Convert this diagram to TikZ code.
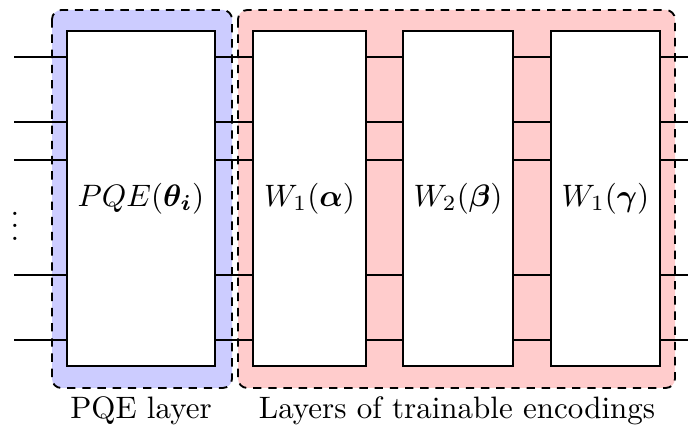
\documentclass[tikz,border=0pt]{standalone}
\usepackage{amsmath,amssymb}
\usepackage{xcolor}
\usepackage{tikz}
\usetikzlibrary{positioning,calc}
\tikzset{
  gatebox/.style={draw, fill=white, semithick, minimum height=108pt, inner sep=0pt},
  layerbg/.style={dash pattern=on 2.7pt off 2.2pt, semithick, rounded corners=3pt}
}

\begin{document}
\begin{tikzpicture}[x=0.3226pt, y=-0.3226pt]
  \useasboundingbox (0,0) rectangle (688,431);
  % shaded layer groups
  \draw[layerbg, fill=blue!20] (52,10) rectangle (232,388);
  \draw[layerbg, fill=red!20] (238,10) rectangle (675,388);
  % wires
  \foreach \y [count=\k] in {57,122,160,275,340} {
    \coordinate (in\k) at (14,\y);
    \coordinate (out\k) at (688,\y);
    \draw[semithick] (in\k) -- (out\k);
  }
  \node at (15,217) (dots) {$\vdots$};
  % gates
  \node[gatebox, minimum width=47.7pt] (pqe) at (141,198.5) {$PQE(\boldsymbol{\theta_i})$};
  \node[gatebox, minimum width=36.4pt] (wa) at (309.5,198.5) {$W_1(\boldsymbol{\alpha})$};
  \node[gatebox, minimum width=35.5pt] (wb) at (458,198.5) {$W_2(\boldsymbol{\beta})$};
  \node[gatebox, minimum width=35.2pt] (wc) at (605.5,198.5) {$W_1(\boldsymbol{\gamma})$};
  % captions
  \node at (141,411) (pqelabel) {PQE layer};
  \node at (457,411) (enclabel) {Layers of trainable encodings};
\end{tikzpicture}
\end{document}
